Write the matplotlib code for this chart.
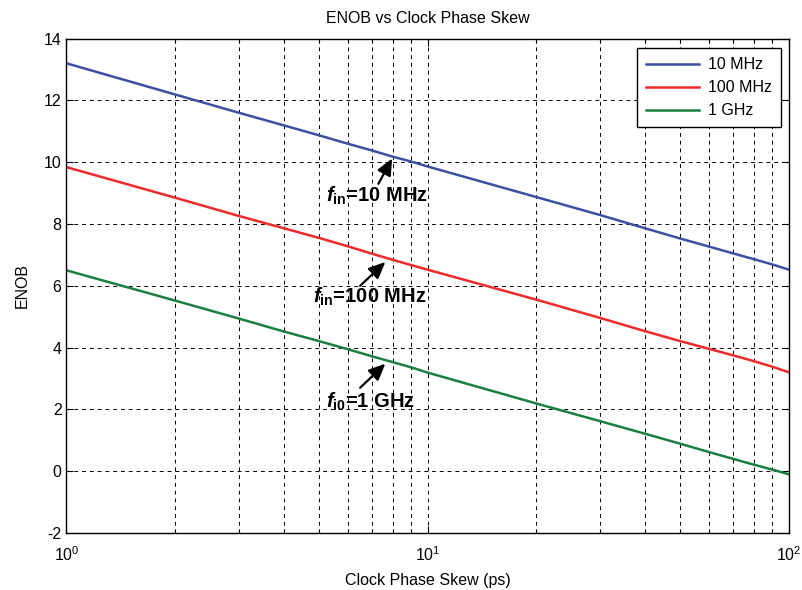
import matplotlib
matplotlib.use("Agg")
import matplotlib.pyplot as plt
from matplotlib.ticker import LogLocator, NullFormatter, FixedLocator

plt.rcParams['font.family'] = ['Liberation Sans', 'DejaVu Sans']
plt.rcParams['axes.unicode_minus'] = False
plt.rcParams['mathtext.fontset'] = 'custom'
plt.rcParams['mathtext.rm'] = 'Liberation Sans'
plt.rcParams['mathtext.it'] = 'Liberation Sans:italic'
plt.rcParams['mathtext.bf'] = 'Liberation Sans:bold'
plt.rcParams['mathtext.bfit'] = 'Liberation Sans:bold:italic'

# Data
skew_ps = [1, 2, 3, 4, 5, 6, 7, 8, 9, 10, 20, 30, 40, 50, 60, 70, 80, 90, 100]
enob_10mhz = [13.20, 12.19, 11.60, 11.19, 10.87, 10.60, 10.38, 10.18, 10.02, 9.86,
              8.87, 8.29, 7.86, 7.53, 7.27, 7.05, 6.86, 6.69, 6.52]
enob_100mhz = [9.84, 8.85, 8.26, 7.86, 7.55, 7.28, 7.04, 6.84, 6.67, 6.52,
               5.55, 4.96, 4.53, 4.21, 3.96, 3.75, 3.56, 3.38, 3.20]
enob_1ghz = [6.50, 5.52, 4.94, 4.52, 4.21, 3.95, 3.72, 3.53, 3.36, 3.19,
             2.19, 1.62, 1.21, 0.89, 0.62, 0.40, 0.21, 0.05, -0.10]
series_labels = ['10 MHz', '100 MHz', '1 GHz']
series_colors = ['#3A50A2', '#EE2A2A', '#1A8040']

annot_texts = [r'$\mathbfit{f}_{\mathbf{in}}$=10 MHz',
               r'$\mathbfit{f}_{\mathbf{in}}$=100 MHz',
               r'$\mathbfit{f}_{\mathbf{i0}}$=1 GHz']
annot_heads = [(7.97, 10.12), (7.63, 6.77), (7.63, 3.48)]
annot_tails = [(7.30, 9.30), (6.50, 6.00), (6.50, 2.70)]
annot_text_pos = [(7.25, 8.92), (6.93, 5.64), (6.93, 2.24)]

fig = plt.figure(figsize=(8.02, 5.9), dpi=100)
ax = fig.add_axes([0.0829, 0.0966, 0.9009, 0.838])

for ys, lab, col in zip([enob_10mhz, enob_100mhz, enob_1ghz], series_labels, series_colors):
    ax.plot(skew_ps, ys, color=col, lw=1.8, label=lab)

ax.set_xscale('log')
ax.set_xlim(1, 100)
ax.set_ylim(-2, 14)
ax.set_yticks(range(-2, 15, 2))
ax.xaxis.set_major_locator(FixedLocator([1, 10, 100]))
ax.xaxis.set_minor_locator(LogLocator(base=10, subs=range(2, 10)))
ax.xaxis.set_minor_formatter(NullFormatter())

ax.grid(True, which='major', color='black', linestyle=(0, (4, 4)), linewidth=0.7)
ax.grid(True, which='minor', axis='x', color='black', linestyle=(0, (4, 4)), linewidth=0.7)

ax.tick_params(which='both', direction='in', top=True, right=True, labelsize=11.5, width=0.8)
ax.tick_params(which='major', length=5)
ax.tick_params(which='minor', length=3)
ax.tick_params(axis='x', which='major', pad=9)
for s in ax.spines.values():
    s.set_linewidth(1.0)
    s.set_color('black')

ax.set_title('ENOB vs Clock Phase Skew', fontsize=11.5, pad=11)
ax.set_xlabel('Clock Phase Skew (ps)', fontsize=11.5, labelpad=6)
ax.set_ylabel('ENOB', fontsize=11.5, labelpad=10)

for txt, head, tail, tpos in zip(annot_texts, annot_heads, annot_tails, annot_text_pos):
    ax.annotate('', xy=head, xytext=tail,
                arrowprops=dict(arrowstyle='-|>,head_length=1.0,head_width=0.45',
                                color='black', lw=1.6, shrinkA=0, shrinkB=0))
    ax.text(tpos[0], tpos[1], txt, ha='center', va='center', fontsize=14.5,
            fontweight='bold')

leg = ax.legend(loc='upper right', bbox_to_anchor=(0.989, 0.980), fontsize=11.5,
                frameon=True, fancybox=False, edgecolor='black', framealpha=1,
                borderaxespad=0, handlelength=3.3, labelspacing=0.5,
                borderpad=0.55, handletextpad=0.6)
leg.get_frame().set_linewidth(1.0)

fig.savefig('out.png', dpi=100)
